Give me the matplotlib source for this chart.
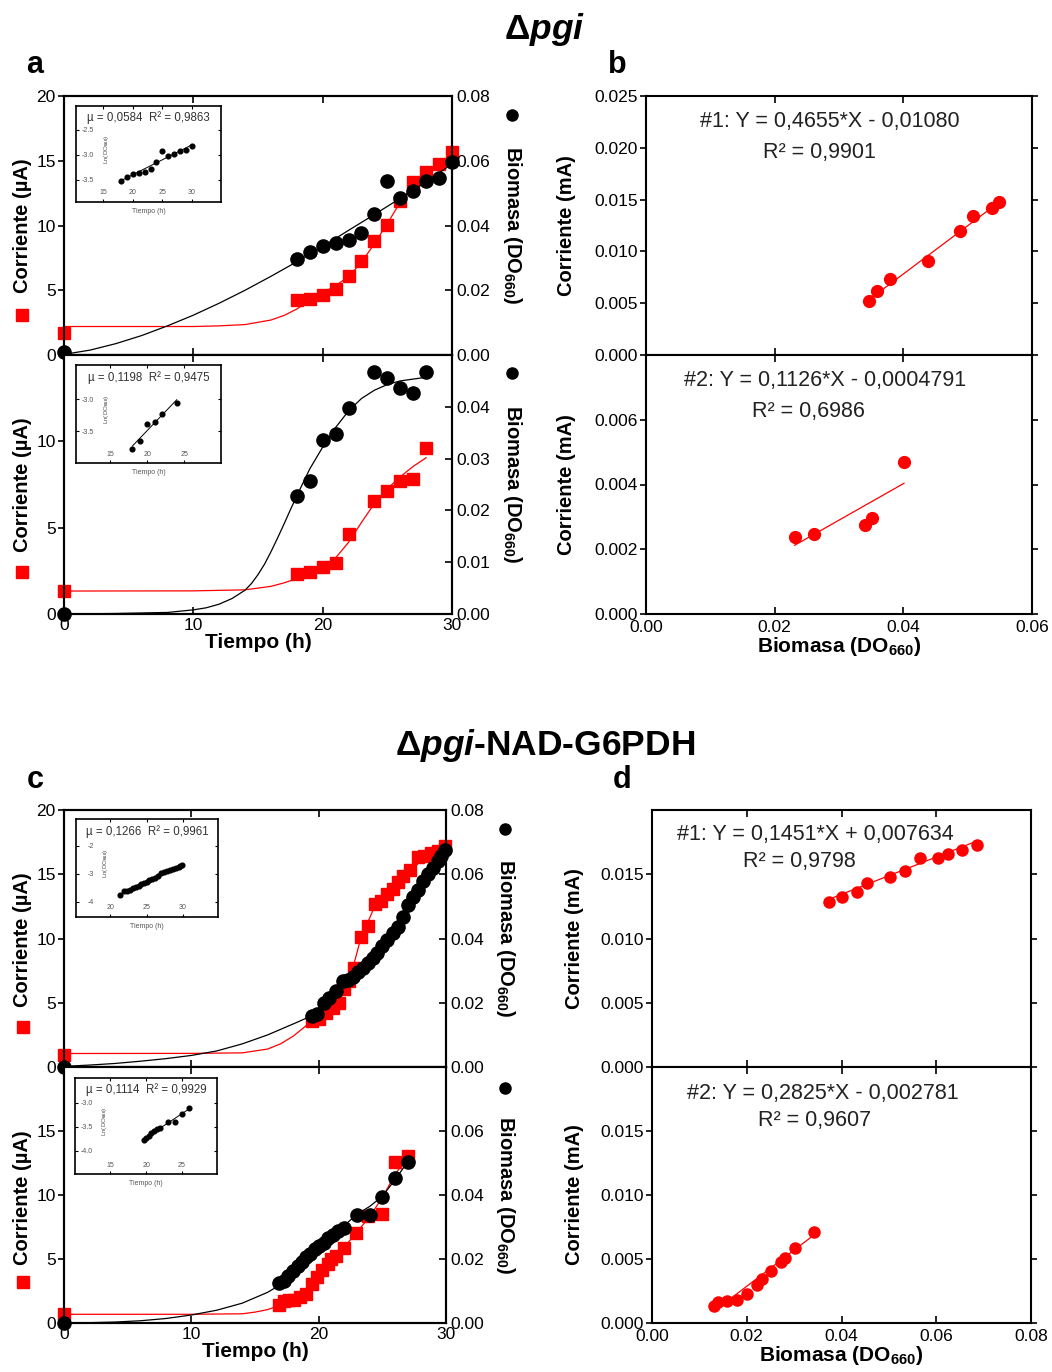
import numpy as np
import matplotlib
matplotlib.use("Agg")
import matplotlib.pyplot as plt

plt.rcParams['font.family'] = ['Liberation Sans', 'DejaVu Sans']
plt.rcParams['mathtext.fontset'] = 'custom'
plt.rcParams['mathtext.rm'] = 'Liberation Sans:bold'
plt.rcParams['mathtext.it'] = 'Liberation Sans:italic:bold'
plt.rcParams['mathtext.bf'] = 'Liberation Sans:bold'

# ---------------- datos panel a (delta pgi) ----------------
# cultivo #1
a1_t_od = [0, 18, 19, 20, 21, 22, 23, 24, 25, 26, 27, 28, 29, 30]
a1_od = [0.001, 0.0297, 0.0317, 0.0338, 0.0347, 0.0355, 0.0376, 0.0436, 0.0537,
         0.0486, 0.0508, 0.0536, 0.0548, 0.0597]
a1_t_i = [0, 18, 19, 20, 21, 22, 23, 24, 25, 26, 27, 28, 29, 30]
a1_i = [1.72, 4.25, 4.32, 4.63, 5.12, 6.13, 7.26, 8.80, 10.06, 11.89, 13.33, 14.13, 14.75, 15.70]
a1_fit_od_t = [0, 2, 4, 6, 8, 10, 12, 14, 16, 18, 20, 22, 24, 26, 28, 30]
a1_fit_od = [0.0002, 0.0015, 0.0035, 0.0060, 0.0090, 0.0123, 0.0160, 0.0200, 0.0243,
             0.0288, 0.0335, 0.0385, 0.0434, 0.0484, 0.0535, 0.0590]
a1_fit_i_t = [0, 10, 12, 14, 16, 17, 18, 19, 20, 21, 22, 23, 24, 25, 26, 27, 28, 29, 30]
a1_fit_i = [2.2, 2.2, 2.25, 2.35, 2.7, 3.05, 3.55, 4.2, 4.8, 5.35, 6.05, 7.15, 8.6,
            10.15, 11.8, 13.1, 14.0, 14.7, 15.45]
# cultivo #2
a2_t_od = [0, 18, 19, 20, 21, 22, 24, 25, 26, 27, 28]
a2_od = [0.0, 0.0228, 0.0257, 0.0336, 0.0347, 0.0397, 0.0468, 0.0456, 0.0437, 0.0426, 0.0467]
a2_t_i = [0, 18, 19, 20, 21, 22, 24, 25, 26, 27, 28]
a2_i = [1.33, 2.32, 2.41, 2.72, 2.93, 4.63, 6.56, 7.14, 7.72, 7.80, 9.59]
a2_fit_od_t = [0, 4, 8, 10, 11, 12, 13, 14, 14.5, 15, 15.5, 16, 16.5, 17, 17.5, 18, 19, 20,
               21, 22, 23, 24, 25, 26, 28]
a2_fit_od = [0.0, 0.0001, 0.0003, 0.0008, 0.0012, 0.0019, 0.0030, 0.0046, 0.0059, 0.0076,
             0.0096, 0.0120, 0.0146, 0.0173, 0.0201, 0.0228, 0.0280, 0.0322, 0.0360,
             0.0392, 0.0416, 0.0432, 0.0443, 0.0450, 0.0457]
a2_fit_i_t = [0, 10, 14, 16, 17, 18, 19, 20, 21, 22, 23, 24, 25, 26, 27, 28]
a2_fit_i = [1.33, 1.34, 1.40, 1.60, 1.80, 2.05, 2.35, 2.70, 3.25, 4.15, 5.30, 6.40,
            7.25, 7.95, 8.55, 9.05]

# ---------------- datos panel c (delta pgi-NAD-G6PDH) ----------------
c1_t_od = [0, 19.5, 19.9, 20.4, 20.8, 21.4, 21.9, 22.3, 22.7, 23.1, 23.5, 23.9, 24.3,
           24.6, 25.0, 25.4, 25.8, 26.2, 26.6, 27.0, 27.4, 27.8, 28.2, 28.6, 29.0,
           29.4, 29.6, 29.9]
c1_od = [0.0, 0.0159, 0.0164, 0.0200, 0.0216, 0.0236, 0.0268, 0.0270, 0.0280, 0.0296,
         0.0308, 0.0324, 0.0340, 0.0356, 0.0376, 0.0396, 0.0416, 0.0436, 0.0468,
         0.0504, 0.0528, 0.0552, 0.0580, 0.0600, 0.0620, 0.0640, 0.0656, 0.0676]
c1_t_i = [0, 19.5, 20.05, 20.6, 21.1, 21.6, 22.0, 22.4, 22.8, 23.3, 23.9, 24.4, 24.9,
          25.4, 25.8, 26.2, 26.6, 27.2, 27.8, 28.3, 28.8, 29.4, 29.9]
c1_i = [0.91, 3.58, 3.71, 4.23, 4.62, 5.01, 6.05, 6.70, 7.74, 10.08, 10.99, 12.68,
        12.94, 13.45, 13.84, 14.36, 14.88, 15.35, 16.31, 16.39, 16.65, 16.83, 17.22]
c1_fit_od_t = [0, 2, 4, 6, 8, 10, 12, 14, 16, 18, 19.5, 21, 22.5, 24, 25.5, 27, 28.5, 30]
c1_fit_od = [0.0002, 0.0006, 0.0011, 0.0018, 0.0026, 0.0036, 0.0050, 0.0072, 0.0100,
             0.0134, 0.0160, 0.0224, 0.0280, 0.0332, 0.0392, 0.0492, 0.0592, 0.0688]
c1_fit_i_t = [0, 10, 14, 16, 17, 18, 19, 19.5, 20.5, 21.5, 22.5, 23.3, 24.4, 25.5,
              26.5, 27.5, 28.5, 29.5, 30]
c1_fit_i = [1.05, 1.06, 1.1, 1.4, 1.8, 2.4, 3.2, 3.6, 4.1, 4.9, 7.0, 10.0, 12.5, 13.6,
            14.6, 15.6, 16.3, 16.8, 17.2]
c2_t_od = [0, 16.9, 17.3, 17.6, 18.0, 18.4, 18.7, 19.0, 19.3, 19.7, 20.0, 20.4, 20.7,
           21.1, 21.5, 22.0, 23.0, 24.0, 25.0, 26.0, 27.0]
c2_od = [0.0, 0.0124, 0.0132, 0.0148, 0.0164, 0.0179, 0.0192, 0.0207, 0.0217, 0.0230,
         0.0241, 0.0251, 0.0265, 0.0275, 0.0287, 0.0298, 0.0337, 0.0337, 0.0394,
         0.0453, 0.0504]
c2_t_i = [0, 16.9, 17.3, 17.7, 18.1, 18.5, 19.0, 19.5, 19.9, 20.3, 20.7, 21.0, 21.4,
          22.0, 22.9, 23.9, 25.0, 26.0, 27.0]
c2_i = [0.72, 1.37, 1.70, 1.76, 1.81, 2.02, 2.27, 3.05, 3.57, 4.13, 4.60, 4.99, 5.25,
        5.84, 7.05, 8.35, 8.48, 12.61, 13.08]
c2_fit_od_t = [0, 2, 4, 6, 8, 10, 12, 14, 16, 17, 18, 19, 20, 21, 22, 23, 24, 25, 26, 27]
c2_fit_od = [0.0, 0.0001, 0.0003, 0.0007, 0.0014, 0.0025, 0.0040, 0.0062, 0.0096,
             0.0120, 0.0156, 0.0194, 0.0232, 0.0270, 0.0304, 0.0340, 0.0364, 0.0396,
             0.0448, 0.0504]
c2_fit_i_t = [0, 10, 14, 15, 16, 17, 18, 19, 20, 21, 22, 23, 24, 25, 26, 27]
c2_fit_i = [0.68, 0.68, 0.72, 0.85, 1.05, 1.4, 1.85, 2.5, 3.6, 4.8, 5.9, 7.1, 8.3,
            9.8, 11.6, 13.0]

# ventanas de la fase exponencial (insets) y textos
inset_win = {'a1': (18, 30), 'a2': (18, 24), 'c1': (21, 30), 'c2': (19.4, 26)}
inset_txt = {'a1': 'µ = 0,0584  R² = 0,9863', 'a2': 'µ = 0,1198  R² = 0,9475',
             'c1': 'µ = 0,1266  R² = 0,9961', 'c2': 'µ = 0,1114  R² = 0,9929'}

# ---------------- datos paneles b y d (corriente vs biomasa) ----------------
b1_x = [0.0347, 0.0359, 0.0379, 0.0439, 0.0488, 0.0509, 0.0538, 0.0548]
b1_y = [0.00522, 0.00622, 0.00734, 0.00904, 0.01196, 0.01337, 0.01417, 0.01481]
b2_x = [0.0231, 0.0261, 0.0341, 0.0351, 0.0401]
b2_y = [0.00237, 0.00247, 0.00276, 0.00297, 0.00468]
d1_x = [0.0373, 0.0402, 0.0432, 0.0454, 0.0503, 0.0533, 0.0565, 0.0604, 0.0624, 0.0654, 0.0685]
d1_y = [0.01286, 0.01326, 0.01365, 0.01432, 0.01482, 0.01529, 0.01625, 0.01630,
        0.01656, 0.01685, 0.01724]
d2_x = [0.0131, 0.0140, 0.0159, 0.0180, 0.0200, 0.0221, 0.0232, 0.0251, 0.0273,
        0.0281, 0.0302, 0.0342]
d2_y = [0.0013, 0.00163, 0.00171, 0.00182, 0.00228, 0.00293, 0.00345, 0.0041,
        0.00475, 0.00509, 0.00586, 0.00708]
fit_b1 = (0.4655, -0.01080)
fit_b2 = (0.1126, -0.0004791)
fit_d1 = (0.1451, 0.007634)
fit_d2 = (0.2825, -0.002781)
eq_b1 = ['#1: Y = 0,4655*X - 0,01080', 'R² = 0,9901']
eq_b2 = ['#2: Y = 0,1126*X - 0,0004791', 'R² = 0,6986']
eq_d1 = ['#1: Y = 0,1451*X + 0,007634', 'R² = 0,9798']
eq_d2 = ['#2: Y = 0,2825*X - 0,002781', 'R² = 0,9607']

W, H = 1052, 1372
TICK = 12.5
LAB = 14.5
fig = plt.figure(figsize=(W / 100, H / 100), dpi=100)


def rect(x0, y0, x1, y1):
    return [x0 / W, 1 - y1 / H, (x1 - x0) / W, (y1 - y0) / H]


def frame(ax, lw=1.5):
    for s in ax.spines.values():
        s.set_linewidth(lw)


def inset(ax, box, t, od, key, xlim, ylim, xt, yt, ylab_fmt):
    ins = ax.inset_axes(box)
    t = np.array(t)
    od = np.array(od)
    w0, w1 = inset_win[key]
    m = (t >= w0) & (t <= w1)
    tt, lo = t[m], np.log(od[m])
    p = np.polyfit(tt, lo, 1)
    ins.plot([tt.min(), tt.max()], np.polyval(p, [tt.min(), tt.max()]), '-', color='k', lw=0.7)
    ins.plot(tt, lo, 'o', color='k', ms=3.4)
    ins.set_xlim(xlim)
    ins.set_ylim(ylim)
    ins.set_xticks(xt)
    ins.set_yticks(yt)
    ins.set_yticklabels([ylab_fmt % v for v in yt])
    ins.tick_params(direction='in', length=2.5, width=0.8, labelsize=5,
                    labelcolor='#555555', top=True, right=True)
    ins.tick_params(axis='x', pad=-9)
    ins.tick_params(axis='y', pad=-13)
    frame(ins, 1.2)
    ins.text(0.5, 0.875, inset_txt[key], transform=ins.transAxes, ha='center', va='center',
             fontsize=8.3, color='#333333')
    ins.text(0.21, 0.55, 'Ln(DO$_{660}$)', transform=ins.transAxes, rotation=90,
             ha='center', va='center', fontsize=4.5, color='#555555')
    ins.text(0.5, -0.1, 'Tiempo (h)', transform=ins.transAxes, ha='center', va='center',
             fontsize=5, color='#555555')
    return ins


def time_panel(r, t_od, od, t_i, cur, f_od_t, f_od, f_i_t, f_i, ylim_l, yt_l, ylim_r, yt_r,
               bottom, lab_y, sq_y, circ_y):
    axl = fig.add_axes(r)
    axr = axl.twinx()
    axl.plot(f_i_t, f_i, '-', color='red', lw=0.9)
    axl.plot(t_i, cur, 's', color='red', ms=9, clip_on=False, zorder=4)
    axr.plot(f_od_t, f_od, '-', color='black', lw=0.9)
    axr.plot(t_od, od, 'o', color='black', ms=9.5, clip_on=False, zorder=4)
    axl.set_xlim(0, 30)
    axl.set_xticks([0, 10, 20, 30])
    axl.set_ylim(ylim_l)
    axl.set_yticks(yt_l)
    axr.set_ylim(ylim_r)
    axr.set_yticks(yt_r)
    axr.set_yticklabels(['%.2f' % v for v in yt_r])
    axl.tick_params(axis='x', direction='in', top=True, length=5, width=1.2, labelsize=TICK,
                    labelbottom=bottom, pad=3)
    axl.tick_params(axis='y', direction='out', length=4, width=1.2, labelsize=TICK, pad=2)
    axr.tick_params(axis='y', direction='in', length=5, width=1.2, labelsize=TICK, pad=3)
    frame(axl)
    frame(axr)
    axl.text(-0.108, lab_y, 'Corriente (µA)', transform=axl.transAxes, rotation=90,
             ha='center', va='center', fontsize=LAB, fontweight='bold')
    axl.plot([-0.108], [sq_y], 's', color='red', ms=8, transform=axl.transAxes, clip_on=False)
    axr.text(1.155, 0.5, 'Biomasa (DO$_{660}$)', transform=axr.transAxes, rotation=270,
             ha='center', va='center', fontsize=LAB, fontweight='bold')
    axr.plot([1.155], [circ_y], 'o', color='black', ms=8, transform=axr.transAxes,
             clip_on=False)
    if bottom:
        axl.set_xlabel('Tiempo (h)', fontsize=LAB + 0.5, fontweight='bold', labelpad=0)
    return axl, axr


def scatter_panel(r, x, y, fit, eq, xlim, xt, ylim, yt, bottom, eq_pos, ms):
    ax = fig.add_axes(r)
    slope, icpt = fit
    xf = np.array([min(x), max(x)])
    ax.plot(xf, slope * xf + icpt, '-', color='red', lw=0.9)
    ax.plot(x, y, 'o', color='red', ms=ms)
    ax.set_xlim(xlim)
    ax.set_xticks(xt)
    ax.set_xticklabels(['%.2f' % v for v in xt])
    ax.set_ylim(ylim)
    ax.set_yticks(yt)
    ax.set_yticklabels(['%.3f' % v for v in yt])
    ax.tick_params(axis='x', direction='in', top=True, length=5, width=1.2, labelsize=TICK,
                   labelbottom=bottom, pad=4)
    ax.tick_params(axis='y', direction='out', right=True, length=4, width=1.2, labelsize=TICK,
                   pad=2)
    frame(ax)
    (x1, y1), (x2, y2) = eq_pos
    ax.text(x1, y1, eq[0], transform=ax.transAxes, ha='center', va='center', fontsize=15.5,
            color='#222222')
    ax.text(x2, y2, eq[1], transform=ax.transAxes, ha='center', va='center', fontsize=15.5,
            color='#222222')
    ax.text(-0.205, 0.5, 'Corriente (mA)', transform=ax.transAxes, rotation=90,
            ha='center', va='center', fontsize=LAB, fontweight='bold')
    if bottom:
        ax.set_xlabel('Biomasa (DO$_{660}$)', fontsize=LAB + 0.5, fontweight='bold', labelpad=0)
    return ax


# panel a
la1, ra1 = time_panel(rect(64, 96, 452, 355), a1_t_od, a1_od, a1_t_i, a1_i, a1_fit_od_t,
                      a1_fit_od, a1_fit_i_t, a1_fit_i, (0, 20), [0, 5, 10, 15, 20], (0, 0.08),
                      [0, 0.02, 0.04, 0.06, 0.08], False, 0.5, 0.154, 0.927)
la2, ra2 = time_panel(rect(64, 355, 452, 614), a2_t_od, a2_od, a2_t_i, a2_i, a2_fit_od_t,
                      a2_fit_od, a2_fit_i_t, a2_fit_i, (0, 15), [0, 5, 10], (0, 0.05),
                      [0, 0.01, 0.02, 0.03, 0.04], True, 0.5, 0.162, 0.93)
inset(ra1, [0.031, 0.591, 0.374, 0.371], a1_t_od, a1_od, 'a1', (10.45, 34.9), (-3.94, -2.02),
      [15, 20, 25, 30], [-3.5, -3.0, -2.5], '%.1f')
inset(ra2, [0.031, 0.583, 0.374, 0.378], a2_t_od, a2_od, 'a2', (10.4, 30.0), (-4.0, -2.47),
      [15, 20, 25], [-3.5, -3.0], '%.1f')

# panel b
scatter_panel(rect(646, 96, 1032, 355), b1_x, b1_y, fit_b1, eq_b1, (0, 0.06),
              [0, 0.02, 0.04, 0.06], (0, 0.025), [0, 0.005, 0.010, 0.015, 0.020, 0.025],
              False, ((0.477, 0.90), (0.45, 0.78)), 8.5)
scatter_panel(rect(646, 355, 1032, 614), b2_x, b2_y, fit_b2, eq_b2, (0, 0.06),
              [0, 0.02, 0.04, 0.06], (0, 0.008), [0, 0.002, 0.004, 0.006],
              True, ((0.464, 0.90), (0.42, 0.78)), 8.5)

# panel c
lc1, rc1 = time_panel(rect(64, 810, 446, 1067), c1_t_od, c1_od, c1_t_i, c1_i, c1_fit_od_t,
                      c1_fit_od, c1_fit_i_t, c1_fit_i, (0, 20), [0, 5, 10, 15, 20], (0, 0.08),
                      [0, 0.02, 0.04, 0.06, 0.08], False, 0.494, 0.155, 0.926)
lc2, rc2 = time_panel(rect(64, 1067, 446, 1323), c2_t_od, c2_od, c2_t_i, c2_i, c2_fit_od_t,
                      c2_fit_od, c2_fit_i_t, c2_fit_i, (0, 20), [0, 5, 10, 15], (0, 0.08),
                      [0, 0.02, 0.04, 0.06], True, 0.49, 0.16, 0.918)
inset(rc1, [0.031, 0.584, 0.372, 0.381], c1_t_od, c1_od, 'c1', (15.3, 34.8), (-4.54, -1.04),
      [20, 25, 30], [-4, -3, -2], '%d')
inset(rc2, [0.029, 0.582, 0.372, 0.375], c2_t_od, c2_od, 'c2', (10.1, 29.9), (-4.48, -2.48),
      [15, 20, 25], [-4.0, -3.5, -3.0], '%.1f')

# panel d
scatter_panel(rect(652, 810, 1031, 1067), d1_x, d1_y, fit_d1, eq_d1, (0, 0.08),
              [0, 0.02, 0.04, 0.06, 0.08], (0, 0.02), [0, 0.005, 0.010, 0.015],
              False, ((0.43, 0.903), (0.39, 0.80)), 8)
scatter_panel(rect(652, 1067, 1031, 1323), d2_x, d2_y, fit_d2, eq_d2, (0, 0.08),
              [0, 0.02, 0.04, 0.06, 0.08], (0, 0.02), [0, 0.005, 0.010, 0.015],
              True, ((0.45, 0.895), (0.43, 0.79)), 8)

# titulos y letras
fig.text(545 / W, 1 - 30 / H, 'Δ$\\mathit{pgi}$', ha='center', va='center', fontsize=25.5,
         fontweight='bold')
fig.text(545 / W, 1 - 745 / H, 'Δ$\\mathit{pgi}$-NAD-G6PDH', ha='center', va='center',
         fontsize=25.5, fontweight='bold')
for lab, x, y in [('a', 35, 65), ('b', 617, 65), ('c', 35, 780), ('d', 622, 780)]:
    fig.text(x / W, 1 - y / H, lab, ha='center', va='center', fontsize=22, fontweight='bold')

fig.savefig('out.png', dpi=100)
